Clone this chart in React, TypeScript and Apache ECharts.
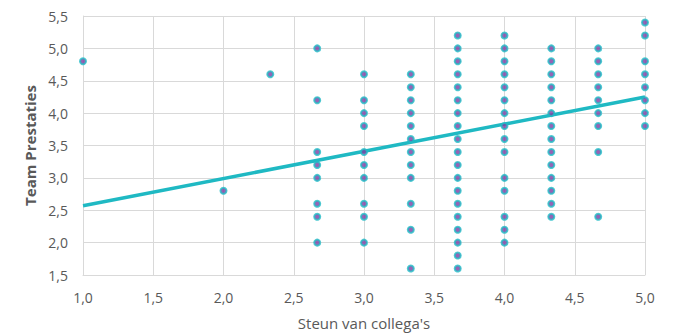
import React, { useEffect, useRef } from "react";
import * as echarts from "echarts";

// Steun van collega's (x) columns and their Team Prestaties (y) values
const xColumns = [1.0, 2.0, 2.333, 2.667, 3.0, 3.333, 3.667, 4.0, 4.333, 4.667, 5.0];
const col100 = [4.8];
const col200 = [2.8];
const col233 = [4.6];
const col267 = [5.0, 4.2, 3.4, 3.2, 3.0, 2.6, 2.4, 2.0];
const col300 = [4.6, 4.2, 4.0, 3.8, 3.4, 3.2, 3.0, 2.6, 2.4, 2.0];
const col333 = [4.6, 4.4, 4.2, 4.0, 3.8, 3.6, 3.4, 3.2, 3.0, 2.6, 2.2, 1.6];
const col367 = [5.2, 5.0, 4.8, 4.6, 4.4, 4.2, 4.0, 3.8, 3.6, 3.4, 3.2, 3.0, 2.8, 2.6, 2.4, 2.2, 2.0, 1.8, 1.6];
const col400 = [5.2, 5.0, 4.8, 4.6, 4.4, 4.2, 4.0, 3.8, 3.6, 3.4, 3.0, 2.8, 2.4, 2.2, 2.0];
const col433 = [5.0, 4.8, 4.6, 4.4, 4.2, 4.0, 3.8, 3.6, 3.4, 3.2, 3.0, 2.8, 2.6, 2.4];
const col467 = [5.0, 4.8, 4.6, 4.4, 4.2, 4.0, 3.8, 3.4, 2.4];
const col500 = [5.4, 5.2, 4.8, 4.6, 4.4, 4.2, 4.0, 3.8];
const columnValues = [col100, col200, col233, col267, col300, col333, col367, col400, col433, col467, col500];

// Linear trend line endpoints
const trendX = [1.0, 5.0];
const trendY = [2.57, 4.25];

const xAxisTitle = "Steun van collega's";
const yAxisTitle = "Team Prestaties";

const fmt = (v: number) => v.toFixed(1).replace(".", ",");

export default function App() {
  const ref = useRef<HTMLDivElement>(null);
  useEffect(() => {
    if (!ref.current) return;
    const chart = echarts.init(ref.current, undefined, { renderer: "svg" });
    const points: number[][] = [];
    xColumns.forEach((x, i) => {
      columnValues[i].forEach((y) => points.push([x, y]));
    });
    const trend = trendX.map((x, i) => [x, trendY[i]]);
    const font = "'Open Sans', 'Liberation Sans', sans-serif";
    chart.setOption({
      animation: false,
      grid: { left: 83, right: 29, top: 16, bottom: 60, containLabel: false },
      xAxis: {
        type: "value",
        min: 1,
        max: 5,
        interval: 0.5,
        name: xAxisTitle,
        nameLocation: "middle",
        nameGap: 40,
        nameTextStyle: { color: "#595959", fontSize: 15, fontFamily: font },
        axisLine: { show: true, lineStyle: { color: "#d9d9d9", width: 1 } },
        axisTick: { show: false },
        splitLine: { show: true, lineStyle: { color: "#d9d9d9", width: 1 } },
        axisLabel: { color: "#595959", fontSize: 14, fontFamily: font, margin: 15, formatter: fmt },
      },
      yAxis: {
        type: "value",
        min: 1.5,
        max: 5.5,
        interval: 0.5,
        name: yAxisTitle,
        nameLocation: "middle",
        nameGap: 43,
        nameRotate: 90,
        nameTextStyle: { color: "#595959", fontSize: 15, fontWeight: "bold", fontFamily: font },
        axisLine: { show: true, lineStyle: { color: "#d9d9d9", width: 1 } },
        axisTick: { show: false },
        splitLine: { show: true, lineStyle: { color: "#d9d9d9", width: 1 } },
        axisLabel: { color: "#595959", fontSize: 14, fontFamily: font, margin: 15, formatter: fmt },
      },
      series: [
        {
          type: "line",
          data: trend,
          showSymbol: false,
          symbol: "none",
          lineStyle: { color: "#1fb9c3", width: 3.5 },
          z: 1,
        },
        {
          type: "scatter",
          data: points,
          symbol: "circle",
          symbolSize: 6,
          itemStyle: { color: "#7d3ca3", borderColor: "#22bcc6", borderWidth: 2 },
          z: 2,
        },
      ],
    });
    return () => chart.dispose();
  }, []);
  return (
    <div
      ref={ref}
      style={{ position: "absolute", left: 0, top: 0, width: 674, height: 335 }}
    />
  );
}
